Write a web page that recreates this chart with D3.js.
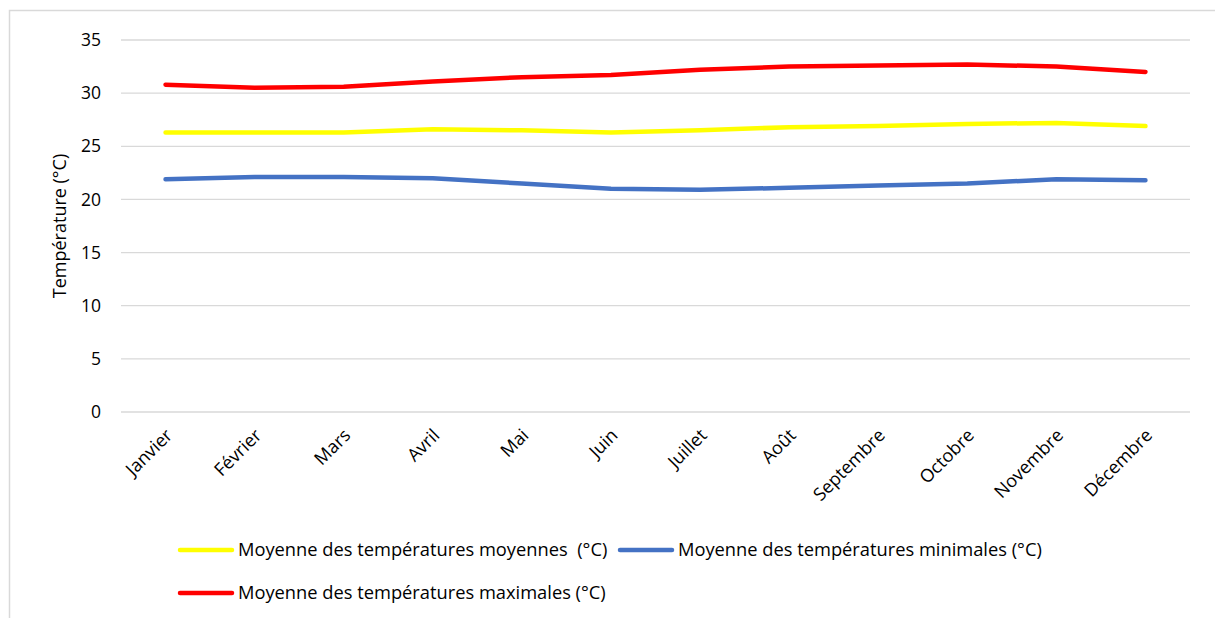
<!DOCTYPE html>
<html>
<head>
    <meta charset="utf-8">
    <title>Températures mensuelles</title>
    <script src="https://cdn.jsdelivr.net/npm/d3@7"></script>
    <style>
    body { margin:0; background:#fff; overflow:hidden; }
    svg { font-family:"Open Sans", "Noto Sans", sans-serif; display:block; }
    .grid line { stroke:#d9d9d9; stroke-width:1.3; }
    .tick text { fill:#000; }
    </style>
</head>
<body>
<script>

const months = ["Janvier","Février","Mars","Avril","Mai","Juin","Juillet","Août","Septembre","Octobre","Novembre","Décembre"];
const tempMoy = [26.3, 26.3, 26.3, 26.6, 26.5, 26.3, 26.5, 26.8, 26.9, 27.1, 27.2, 26.9];
const tempMin = [21.9, 22.1, 22.1, 22.0, 21.5, 21.0, 20.9, 21.1, 21.3, 21.5, 21.9, 21.8];
const tempMax = [30.8, 30.5, 30.6, 31.1, 31.5, 31.7, 32.2, 32.5, 32.6, 32.7, 32.5, 32.0];
const yTicks = [0, 5, 10, 15, 20, 25, 30, 35];

const series = [
    {name:"Moyenne des températures moyennes  (°C)", values:tempMoy, color:"#FFFF00"},
    {name:"Moyenne des températures minimales (°C)", values:tempMin, color:"#4472C4"},
    {name:"Moyenne des températures maximales (°C)", values:tempMax, color:"#FF0000"}
];

const W = 1215, H = 618;
const fs = "17.5px";
const svg = d3.select("body").append("svg").attr("width", W).attr("height", H);

// chart border
svg.append("rect")
    .attr("x", 9.5).attr("y", 10.5)
    .attr("width", W + 20).attr("height", H + 20)
    .attr("fill", "none").attr("stroke", "#d9d9d9").attr("stroke-width", 1.5);

const mLeft = 121, mRight = 1190, mTop = 40, mBottom = 412;

const x = d3.scalePoint().domain(months).range([mLeft, mRight]).padding(0.5);
const y = d3.scaleLinear().domain([0, 35]).range([mBottom, mTop]);

// gridlines
svg.append("g").attr("class", "grid")
    .selectAll("line").data(yTicks).join("line")
    .attr("x1", mLeft).attr("x2", mRight)
    .attr("y1", d => y(d)).attr("y2", d => y(d));

// y axis
const yAxis = svg.append("g")
    .attr("transform", `translate(${mLeft},0)`)
    .call(d3.axisLeft(y).tickValues(yTicks).tickSize(0).tickPadding(20));
yAxis.select(".domain").remove();
yAxis.attr("font-size", null).attr("font-family", null);
yAxis.selectAll("text").style("font-size", fs);

// x axis labels
const xAxis = svg.append("g")
    .attr("transform", `translate(0,${mBottom})`)
    .call(d3.axisBottom(x).tickSize(0));
xAxis.select(".domain").remove();
xAxis.attr("font-size", null).attr("font-family", null);
xAxis.selectAll("text")
    .style("font-size", "18px")
    .attr("text-anchor", "end")
    .attr("transform", "translate(3,20) rotate(-45)")
    .attr("dy", "0.35em")
    .attr("y", 0);

// y title
svg.append("text")
    .attr("transform", `translate(60,${(mTop + mBottom) / 2}) rotate(-90)`)
    .attr("text-anchor", "middle")
    .attr("dy", "0.35em")
    .style("font-size", "18px")
    .text("Température (°C)");

// lines
const line = d3.line()
    .x((d, i) => x(months[i]))
    .y(d => y(d));

svg.append("g").selectAll("path").data(series).join("path")
    .attr("d", d => line(d.values))
    .attr("fill", "none")
    .attr("stroke", d => d.color)
    .attr("stroke-width", 4.5)
    .attr("stroke-linecap", "round")
    .attr("stroke-linejoin", "round");

// legend
const legendPos = [[180, 550], [620, 550], [180, 593]];
const legend = svg.append("g").selectAll("g").data(series).join("g")
    .attr("transform", (d, i) => `translate(${legendPos[i][0]},${legendPos[i][1]})`);
legend.append("line")
    .attr("x1", 0).attr("x2", 52)
    .attr("stroke", d => d.color)
    .attr("stroke-width", 4.5)
    .attr("stroke-linecap", "round");
legend.append("text")
    .attr("x", 58).attr("dy", "0.35em")
    .style("font-size", "18.3px")
    .style("white-space", "pre")
    .text(d => d.name);

</script>
</body>
</html>
